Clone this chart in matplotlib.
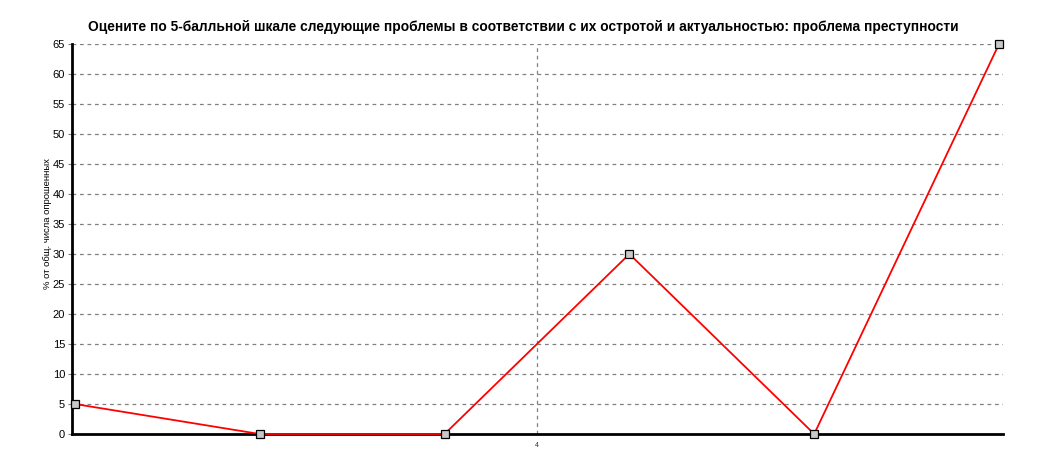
import numpy as np
import matplotlib.pyplot as plt

plt.rcParams['font.family'] = ['Liberation Sans', 'DejaVu Sans']

positions = [0, 1, 2, 3, 4, 5]
values = [5, 0, 0, 30, 0, 65]
y_ticks = list(range(0, 70, 5))
x_tick_pos = [2.5]
x_tick_labels = ['4']

title = ('Оцените по 5-балльной шкале следующие проблемы в соответствии '
         'с их остротой и актуальностью: проблема преступности')
y_label = '% от общ. числа опрошенных'

fig = plt.figure(figsize=(10.45, 4.69), dpi=100)
ax = fig.add_axes([0.0689, 0.0746, 0.891, 0.8316])

ax.set_xlim(-0.016, 5.022)
ax.set_ylim(0, 65)
ax.set_yticks(y_ticks)
ax.set_xticks(x_tick_pos)
ax.set_xticklabels(x_tick_labels, fontsize=5, color='#333333')
ax.tick_params(axis='y', labelsize=8, length=3, color='gray', pad=2)
ax.tick_params(axis='x', length=0, pad=6)

ax.grid(True, color='gray', linestyle=(0, (3, 3)), linewidth=0.9)
ax.set_axisbelow(True)

for side in ['top', 'right']:
    ax.spines[side].set_visible(False)
ax.spines['left'].set_linewidth(2)
ax.spines['bottom'].set_linewidth(2)

ax.plot(positions, values, color='red', linewidth=1.3, marker='s',
        markersize=5.5, markerfacecolor='#c8c8c8', markeredgecolor='black',
        markeredgewidth=0.9, clip_on=False, zorder=5)

# title is centred on the figure, not on the axes
ax.set_title(title, fontsize=9.9, fontweight='bold', pad=9, x=0.4844)
ax.set_ylabel(y_label, fontsize=6.8)
ax.yaxis.set_label_coords(-0.022, 0.54)

fig.savefig('out.png', dpi=100)
